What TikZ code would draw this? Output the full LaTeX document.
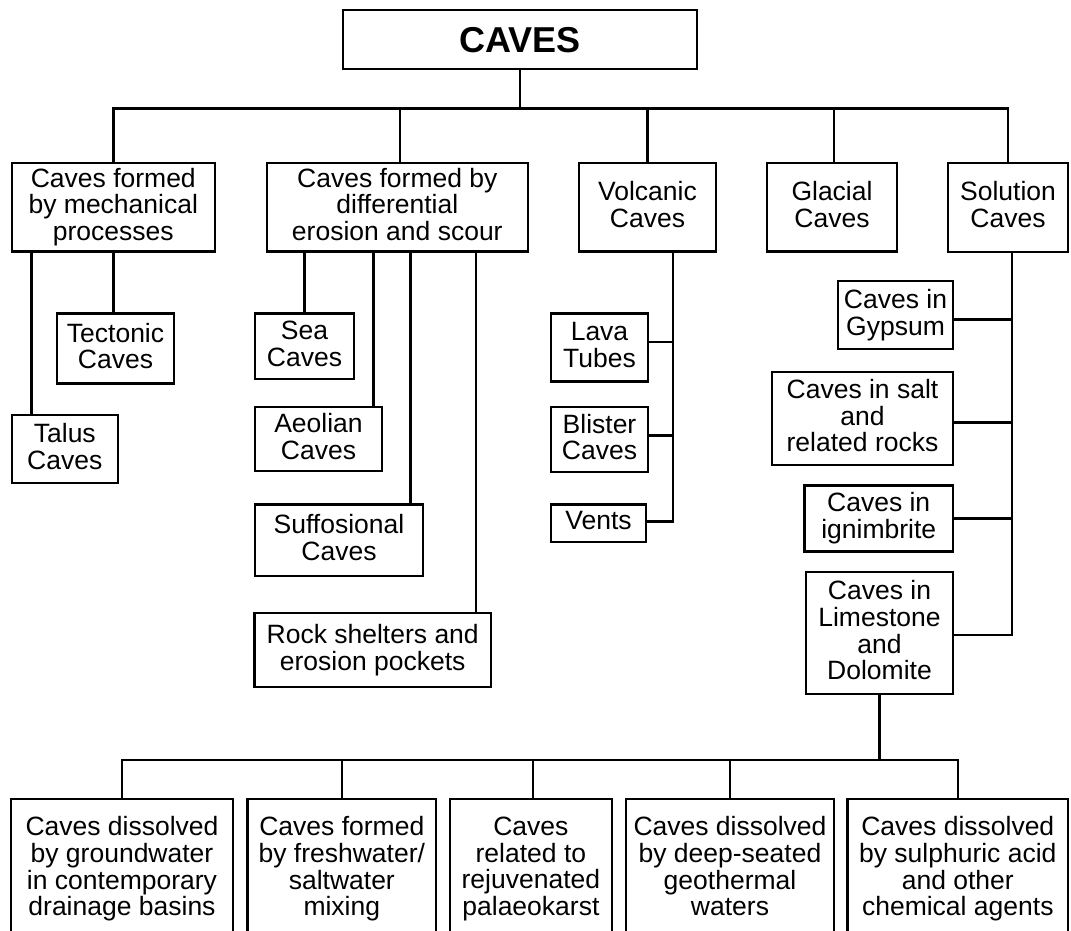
\documentclass[tikz,border=0pt]{standalone}
\usepackage{fontspec}
\setmainfont{Liberation Sans}
\usepackage{tikz}

\begin{document}
\begin{tikzpicture}[line cap=rect,line join=miter,x=1pt,y=-1pt,line width=2.5pt,
  box/.style={draw,line width=2.5pt,align=center,inner sep=0pt,text depth=5.5pt,
    font=\fontsize{26.5}{26.7}\selectfont}]
\useasboundingbox (0,0) rectangle (1071,930);
\clip (0,0) rectangle (1071,930);
\fill[white] (0,0) rectangle (1071,930);
\node (caves) at (520,39.5) [box,text depth=0pt,minimum width=354pt,minimum height=59pt,font=\fontsize{36}{36}\selectfont\bfseries] {CAVES};
\node (mech) at (113.3,207) [box,minimum width=203pt,minimum height=88.5pt] {Caves formed\\by mechanical\\processes};
\node (diff) at (397.3,207) [box,minimum width=261pt,minimum height=88.5pt] {Caves formed by\\differential\\erosion and scour};
\node (volc) at (647.5,207) [box,minimum width=137pt,minimum height=88.5pt] {Volcanic\\Caves};
\node (glac) at (832,207) [box,minimum width=130pt,minimum height=88.5pt] {Glacial\\Caves};
\node (sol) at (1008,207.3) [box,minimum width=120pt,minimum height=89pt] {Solution\\Caves};
\node (tect) at (115.5,348.7) [box,minimum width=117pt,minimum height=70pt] {Tectonic\\Caves};
\node (talus) at (64.8,449) [box,minimum width=106pt,minimum height=68pt] {Talus\\Caves};
\node (sea) at (304.5,346.2) [box,minimum width=99pt,minimum height=65.5pt] {Sea\\Caves};
\node (aeol) at (318.5,439) [box,minimum width=127pt,minimum height=64pt] {Aeolian\\Caves};
\node (suff) at (339,540.2) [box,minimum width=168pt,minimum height=71.5pt] {Suffosional\\Caves};
\node (rock) at (372.7,649.9) [box,minimum width=236.5pt,minimum height=74pt] {Rock shelters and\\erosion pockets};
\node (lava) at (599.5,347.3) [box,minimum width=97pt,minimum height=68pt] {Lava\\Tubes};
\node (blister) at (599.5,439.7) [box,minimum width=97pt,minimum height=65pt] {Blister\\Caves};
\node (vents) at (598.5,523) [box,minimum width=95pt,minimum height=37.5pt] {Vents};
\node (gyps) at (895.5,315) [box,minimum width=115pt,minimum height=68pt] {Caves in\\Gypsum};
\node (salt) at (862.5,418.3) [box,minimum width=181pt,minimum height=93pt] {Caves in salt\\and\\related rocks};
\node (ign) at (878.7,518.3) [box,minimum width=148.5pt,minimum height=66pt] {Caves in\\ignimbrite};
\node (lime) at (879.5,632.8) [box,minimum width=147pt,minimum height=122pt] {Caves in\\Limestone\\and\\Dolomite};
\node (dg) at (122,869) [box,minimum width=222pt,minimum height=140pt] {Caves dissolved\\by groundwater\\in contemporary\\drainage basins};
\node (fs) at (341.8,869) [box,minimum width=188.5pt,minimum height=140pt] {Caves formed\\by freshwater/\\saltwater\\mixing};
\node (pk) at (530.9,869) [box,minimum width=162.3pt,minimum height=140pt] {Caves\\related to\\rejuvenated\\palaeokarst};
\node (gt) at (730,869) [box,minimum width=208pt,minimum height=140pt] {Caves dissolved\\by deep-seated\\geothermal\\waters};
\node (sa) at (957.8,869) [box,minimum width=220.4pt,minimum height=140pt] {Caves dissolved\\by sulphuric acid\\and other\\chemical agents};
\coordinate (topbus) at (520,108.3);
\coordinate (lowbus) at (879.5,760);
\coordinate (talustop) at ([xshift=21pt]talus.north west);
\coordinate (aeoltop) at ([xshift=-10pt]aeol.north east);
\coordinate (sufftop) at ([xshift=-14pt]suff.north east);
\coordinate (rocktop) at ([xshift=-16pt]rock.north east);
\coordinate (vtrunk) at ([xshift=25.5pt]volc.south);
\coordinate (strunk) at ([xshift=4pt]sol.south);
\draw (caves.south) -- (topbus);
\draw (mech.north) |- (topbus) -| (sol.north);
\draw ([xshift=2.7pt]diff.north) -- ([xshift=2.7pt]diff.north |- topbus);
\draw (volc.north) -- (volc.north |- topbus);
\draw ([xshift=2pt]glac.north) -- ([xshift=2pt]glac.north |- topbus);
\draw (mech.south) -- (mech.south |- tect.north);
\draw (talustop) -- (talustop |- mech.south);
\draw (sea.north) -- (sea.north |- diff.south);
\draw (aeoltop) -- (aeoltop |- diff.south);
\draw (sufftop) -- (sufftop |- diff.south);
\draw (rocktop) -- (rocktop |- diff.south);
\draw (vtrunk) |- ([yshift=5.3pt]lava.east);
\draw (vtrunk) |- ([yshift=4.4pt]blister.east);
\draw (vtrunk) |- ([yshift=1.3pt]vents.east);
\draw (strunk) |- ([yshift=-4.3pt]gyps.east);
\draw (strunk) |- ([yshift=-4.4pt]salt.east);
\draw (strunk) |- (ign.east);
\draw (strunk) |- ([yshift=-2.2pt]lime.east);
\draw (lime.south) -- (lowbus);
\draw (dg.north) |- (lowbus) -| (sa.north);
\draw (fs.north) -- (fs.north |- lowbus);
\draw ([xshift=2pt]pk.north) -- ([xshift=2pt]pk.north |- lowbus);
\draw (gt.north) -- (gt.north |- lowbus);
\end{tikzpicture}
\end{document}
